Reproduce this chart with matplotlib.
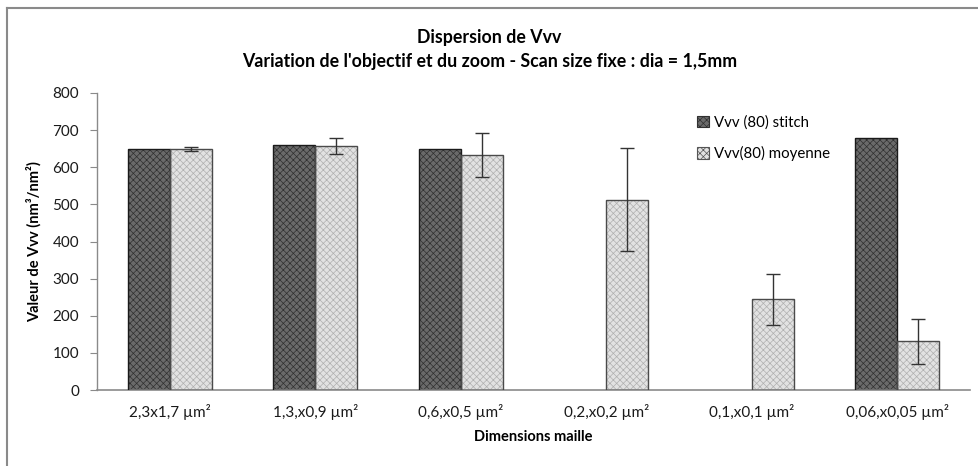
import matplotlib
matplotlib.use("Agg")
import matplotlib.pyplot as plt
import numpy as np
from matplotlib.patches import Patch
from matplotlib.lines import Line2D

plt.rcParams['font.family'] = ['Lato', 'DejaVu Sans']
plt.rcParams['hatch.linewidth'] = 0.5

categories = ['2,3x1,7 µm²', '1,3,x0,9 µm²', '0,6,x0,5 µm²', '0,2,x0,2 µm²', '0,1,x0,1 µm²', '0,06,x0,05 µm²']
stitch = [650, 660, 648, 0, 0, 678]
moyenne = [650, 658, 633, 513, 244, 131]
moyenne_err = [5, 22, 60, 138, 68, 61]

fig = plt.figure(figsize=(9.79, 4.66), dpi=100)
ax = fig.add_axes([97/979, (466-390)/466, (970-97)/979, (390-93)/466])

x = np.arange(len(categories))
w = 0.29

lw_stitch = [1.0 if v > 0 else 0 for v in stitch]
lw_moy = [1.0 if v > 0 else 0 for v in moyenne]

# dark bars
ax.bar(x - w/2, stitch, w, color='#6a6a6a', edgecolor='#303030', hatch='xxxxx', linewidth=0, zorder=2)
ax.bar(x - w/2, stitch, w, fill=False, edgecolor='#1a1a1a', linewidth=lw_stitch, zorder=3)
# light bars
ax.bar(x + w/2, moyenne, w, color='#e2e2e2', edgecolor='#b0b0b0', hatch='xxxxx', linewidth=0, zorder=2)
ax.bar(x + w/2, moyenne, w, fill=False, edgecolor='#4a4a4a', linewidth=lw_moy, zorder=3)
ax.errorbar(x + w/2, moyenne, yerr=moyenne_err, fmt='none', ecolor='#333333',
            elinewidth=1.0, capsize=5, capthick=1.0, zorder=4)

ax.set_xlim(-0.5, len(categories) - 0.5)
ax.set_ylim(0, 800)
ax.set_yticks(np.arange(0, 801, 100))
ax.set_xticks(x)
ax.set_xticklabels(categories, fontsize=11, color='#1a1a1a')
ax.tick_params(axis='x', length=0, pad=10)
ax.tick_params(axis='y', length=5, color='#8a8a8a', labelsize=11, labelcolor='#1a1a1a', pad=8)
for s in ['top', 'right']:
    ax.spines[s].set_visible(False)
ax.spines['left'].set_color('#8a8a8a')
ax.spines['bottom'].set_color('#8a8a8a')
ax.spines['left'].set_linewidth(1.0)
ax.spines['bottom'].set_linewidth(1.2)

ax.set_ylabel('Valeur de Vvv (nm³/nm²)', fontsize=10.5, fontweight='bold', labelpad=8)
ax.set_xlabel('Dimensions maille', fontsize=10.5, fontweight='bold', labelpad=7)

fig.text(0.5, 1 - 38/466, 'Dispersion de Vvv', ha='center', va='center', fontsize=12.8, fontweight='bold')
fig.text(0.5, 1 - 61/466, "Variation de l'objectif et du zoom - Scan size fixe : dia = 1,5mm",
         ha='center', va='center', fontsize=12.8, fontweight='bold')

handles = [Patch(facecolor='#6a6a6a', edgecolor='#303030', hatch='xxxxx', linewidth=0.8),
           Patch(facecolor='#e2e2e2', edgecolor='#555555', hatch='xxxxx', linewidth=0.8)]
fig.legend(handles, ['Vvv (80) stitch', 'Vvv(80) moyenne'], loc='upper left',
           bbox_to_anchor=(684/979, 1 - 102/466), frameon=False, fontsize=10.8,
           handlelength=0.8, handleheight=0.8, handletextpad=0.3, labelspacing=1.1)

# outer border (left and top visible)
fig.add_artist(Line2D([7.5/979, 7.5/979], [0, 1 - 7.5/466], transform=fig.transFigure, color='#8a8a8a', linewidth=1.5))
fig.add_artist(Line2D([7.5/979, 1], [1 - 7.5/466, 1 - 7.5/466], transform=fig.transFigure, color='#8a8a8a', linewidth=1.5))

fig.savefig('out.png', dpi=100)
